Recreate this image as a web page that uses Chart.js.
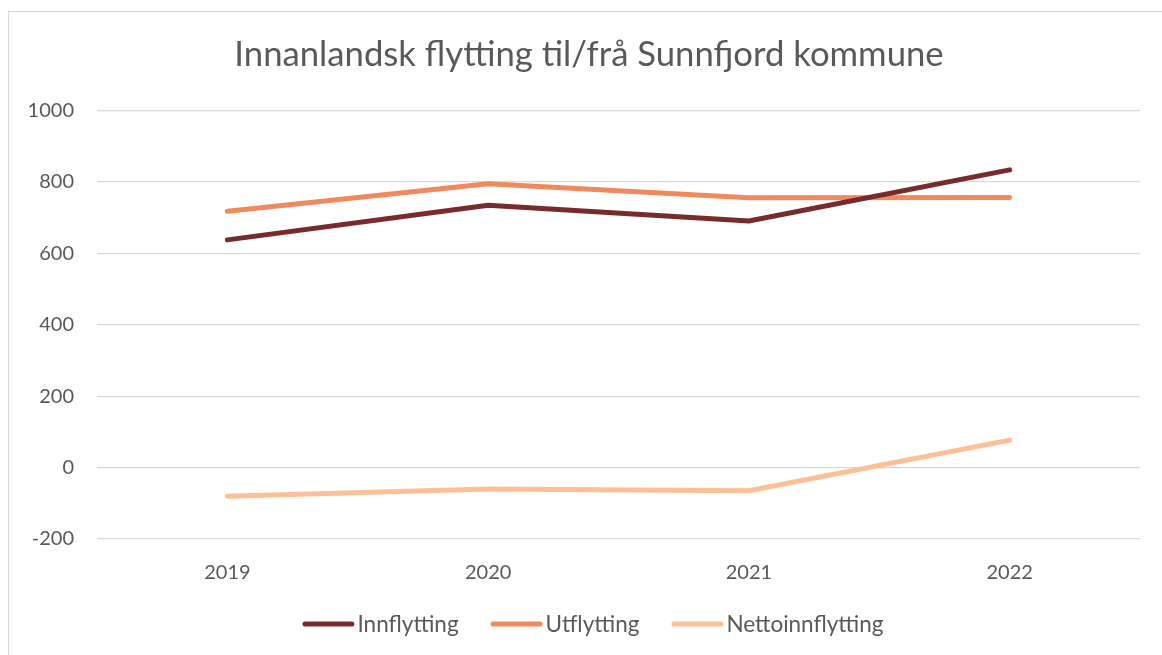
<!DOCTYPE html>
<html>
<head>
<meta charset="utf-8">
<script src="https://cdn.jsdelivr.net/npm/chart.js@4.4.1/dist/chart.umd.min.js"></script>
<style>
  html, body { margin: 0; padding: 0; background: #ffffff; }
  #wrap { position: relative; width: 1162px; height: 655px; overflow: hidden; background: #fff; }
  #frame { position: absolute; left: 8px; top: 11px; width: 1200px; height: 700px; border: 1.5px solid #d9d9d9; box-sizing: border-box; }
  #c { position: absolute; left: 0; top: 0; }
</style>
</head>
<body>
<div id="wrap">
  <div id="frame"></div>
  <canvas id="c" width="1162" height="655"></canvas>
</div>
<script>
const titleText = 'Innanlandsk flytting til/frå Sunnfjord kommune';
const years = ['2019', '2020', '2021', '2022'];
const innflytting = [638, 735, 691, 834];
const utflytting = [718, 795, 756, 757];
const nettoinnflytting = [-80, -60, -65, 77];
const seriesNames = ['Innflytting', 'Utflytting', 'Nettoinnflytting'];
const seriesColors = ['#772B2B', '#F08A5D', '#FDBF95'];
const yMin = -200, yMax = 1000, yStep = 200;

const FONT = 'Lato, "Open Sans", "DejaVu Sans", sans-serif';
const TXT = '#595959';

const mk = (i, data) => ({
  label: seriesNames[i],
  data: data,
  yAxisID: 'y',
  borderColor: seriesColors[i],
  backgroundColor: seriesColors[i],
  borderWidth: 5,
  borderCapStyle: 'round',
  borderJoinStyle: 'round',
  pointRadius: 0,
  pointHoverRadius: 0,
  tension: 0,
  fill: false
});

// Legend drawn below the plot, using the datasets' labels and colours
const lineLegend = {
  id: 'lineLegend',
  afterDraw(chart) {
    const ctx = chart.ctx;
    const items = chart.data.datasets.map(d => ({ label: d.label, color: d.borderColor }));
    const fontSize = 22.5, lineLen = 52, textGap = 55, itemGap = 32;
    const cy = 624, cx = 593;
    ctx.save();
    ctx.font = fontSize + 'px ' + FONT;
    const widths = items.map(it => textGap + ctx.measureText(it.label).width);
    const total = widths.reduce((a, b) => a + b, 0) + itemGap * (items.length - 1);
    let x = cx - total / 2;
    items.forEach((it, i) => {
      ctx.beginPath();
      ctx.strokeStyle = it.color;
      ctx.lineWidth = 5;
      ctx.lineCap = 'round';
      ctx.moveTo(x + 2.5, cy);
      ctx.lineTo(x + lineLen - 2.5, cy);
      ctx.stroke();
      ctx.fillStyle = TXT;
      ctx.textBaseline = 'middle';
      ctx.textAlign = 'left';
      ctx.fillText(it.label, x + textGap, cy + 1);
      x += widths[i] + itemGap;
    });
    ctx.restore();
  }
};

new Chart(document.getElementById('c'), {
  type: 'line',
  data: {
    labels: years,
    datasets: [mk(0, innflytting), mk(1, utflytting), mk(2, nettoinnflytting)]
  },
  plugins: [lineLegend],
  options: {
    responsive: false,
    animation: false,
    devicePixelRatio: 1,
    layout: { padding: { left: 19, right: 3, top: 0, bottom: 48 } },
    plugins: {
      tooltip: { enabled: false },
      legend: { display: false },
      title: {
        display: true,
        text: titleText,
        color: TXT,
        font: { family: FONT, size: 34.7, weight: 'normal', lineHeight: 1.2 },
        padding: { top: 34, bottom: 35 }
      }
    },
    scales: {
      x: {
        offset: true,
        grid: { display: false, drawTicks: false },
        border: { display: false },
        ticks: { color: TXT, font: { family: FONT, size: 20, lineHeight: 1 }, padding: 24 }
      },
      y: {
        position: 'left',
        min: yMin, max: yMax,
        afterFit: (s) => { s.width = 78; },
        grid: { color: '#d9d9d9', lineWidth: 1.3, drawTicks: false },
        border: { display: false },
        ticks: { stepSize: yStep, color: TXT, font: { family: FONT, size: 20 }, padding: 23,
                 callback: (v) => String(v) }
      },
      yRight: {
        position: 'right',
        display: true,
        afterFit: (s) => { s.width = 19; },
        grid: { display: false, drawTicks: false },
        border: { display: false },
        ticks: { display: false }
      }
    }
  }
});
</script>
</body>
</html>
